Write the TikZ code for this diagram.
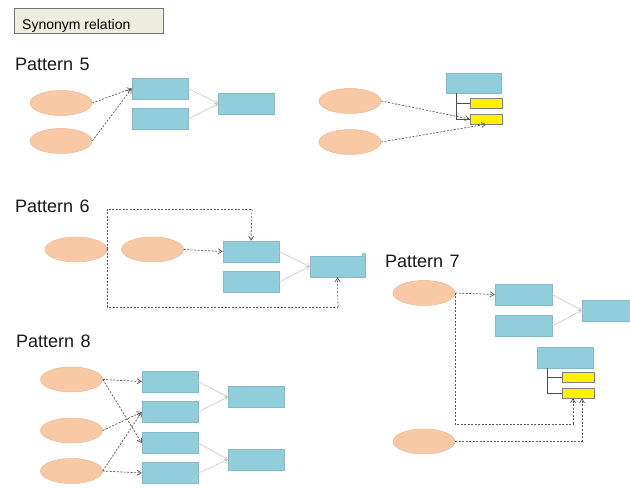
\documentclass[tikz,border=0pt]{standalone}
\usepackage{fontspec}
\setmainfont{Liberation Sans}
\usetikzlibrary{shapes.geometric,arrows.meta}
\definecolor{peach}{HTML}{F9C9A6}
\definecolor{peachline}{HTML}{E4B896}
\definecolor{boxblue}{HTML}{92CDDC}
\definecolor{boxline}{HTML}{86B8CC}
\definecolor{titlefill}{HTML}{EDEDE0}
\tikzset{
  oval/.style={ellipse, fill=peach, draw=peachline, line width=0.5pt, minimum width=62, minimum height=25, inner sep=0pt},
  bluebox/.style={rectangle, fill=boxblue, draw=boxline, line width=0.5pt, minimum width=56, minimum height=21, inner sep=0pt},
  yellowbox/.style={rectangle, fill=yellow, draw=gray, line width=0.5pt, minimum width=32, minimum height=10, inner sep=0pt},
  dashlink/.style={draw=black!65, line width=0.7pt, dash pattern=on 2pt off 1.5pt, -{Straight Barb[length=4pt,width=5pt]}},
  dashplain/.style={draw=black!65, line width=0.7pt, dash pattern=on 2pt off 1.5pt},
  greylink/.style={draw=black!22, line width=0.6pt, -{Straight Barb[length=3pt,width=4pt]}},
  treeline/.style={draw=black!70, line width=0.6pt},
  heading/.style={anchor=base west, font=\fontsize{18}{20}\selectfont, inner sep=0pt, text=black!90},
}
\begin{document}
\begin{tikzpicture}[x=1pt,y=-1pt]
\clip (0,0) rectangle (630,489);
\fill[white] (0,0) rectangle (630,489);

% title
\node[rectangle, fill=titlefill, draw=black!55, line width=0.6pt, minimum width=149, minimum height=25, inner sep=0pt] (title) at (88.5,20.5) {};
\node[anchor=base west, font=\fontsize{14}{16}\selectfont, inner sep=0pt] (titletext) at (22,30) {Synonym relation};

% ---------------- Pattern 5 ----------------
\node[heading] (h5) at (15,71) {Pattern\hspace{1.5pt} 5};
\node[oval] (p5e1) at (61,103) {};
\node[oval] (p5e2) at (61,141) {};
\node[bluebox] (p5a) at (160,88.5) {};
\node[bluebox] (p5b) at (160,119) {};
\node[bluebox] (p5c) at (246.5,103.5) {};
\draw[dashlink] (p5e1.east) -- (p5a.west);
\draw[dashlink] (p5e2.east) -- (p5a.west);
\draw[greylink] (p5a.east) -- (p5c.west);
\draw[greylink] (p5b.east) -- (p5c.west);

\node[oval] (p5e3) at (350,101) {};
\node[oval] (p5e4) at (350,142) {};
\node[bluebox, minimum width=55, minimum height=20] (p5d) at (473.5,83) {};
\node[yellowbox] (p5y1) at (486,103.5) {};
\node[yellowbox] (p5y2) at (486,119) {};
\coordinate (p5t) at (456,93);
\draw[treeline] (p5t) |- (p5y2.west);
\draw[treeline] (p5t |- p5y1.west) -- (p5y1.west);
\draw[dashlink] (p5e3.east) -- (p5y2.west);
\draw[dashlink] (p5e4.east) -- (p5y2.south);

% ---------------- Pattern 6 ----------------
\node[heading] (h6) at (15,213) {Pattern\hspace{1.5pt} 6};
\node[oval] (p6e1) at (76,249.5) {};
\node[oval] (p6e2) at (152.5,249.5) {};
\node[bluebox] (p6e) at (251,251.5) {};
\node[bluebox] (p6f) at (251,282) {};
\node[bluebox, minimum width=55] (p6g) at (337.5,266.5) {};
\fill[boxblue] (362,253) rectangle (365,257);
\draw[boxline, line width=0.5pt] (365,253) -- (365,257);
\coordinate (p6top) at (252,209);
\coordinate (p6bot) at (338,307);
\draw[dashlink] (p6e2.east) -- (p6e.west);
\draw[dashplain] (p6e1.east) |- (p6top);
\draw[dashlink] (p6top) -- (p6e.north);
\draw[dashplain] (p6e1.east) |- (p6bot);
\draw[dashlink] (p6bot) -- (p6g.south);
\draw[greylink] (p6e.east) -- (p6g.west);
\draw[greylink] (p6f.east) -- (p6g.west);

% ---------------- Pattern 7 ----------------
\node[heading] (h7) at (385,268) {Pattern\hspace{1.5pt} 7};
\node[oval] (p7e1) at (424,293) {};
\node[oval] (p7e2) at (424,441.5) {};
\node[bluebox, minimum width=57] (p7h) at (523.5,294.5) {};
\node[bluebox, minimum width=57] (p7i) at (523.5,326) {};
\node[bluebox, minimum width=57] (p7j) at (610.5,310.5) {};
\node[bluebox] (p7k) at (565,357.5) {};
\node[yellowbox] (p7y1) at (578,377) {};
\node[yellowbox] (p7y2) at (578,393) {};
\coordinate (p7t) at (547,368);
\draw[treeline] (p7t) |- (p7y2.west);
\draw[treeline] (p7t |- p7y1.west) -- (p7y1.west);
\coordinate (p7c1) at (573,424);
\coordinate (p7c2) at (582,441.5);
\draw[dashlink] (p7e1.east) -- (p7h.west);
\draw[dashplain] (p7e1.east) |- (p7c1);
\draw[dashlink] (p7c1) -- (p7c1 |- p7y2.south);
\draw[dashplain] (p7e2.east) -- (p7c2);
\draw[dashlink] (p7c2) -- (p7c2 |- p7y2.south);
\draw[greylink] (p7h.east) -- (p7j.west);
\draw[greylink] (p7i.east) -- (p7j.west);

% ---------------- Pattern 8 ----------------
\node[heading] (h8) at (16,348) {Pattern\hspace{1.5pt} 8};
\node[oval] (p8e1) at (71.5,379.5) {};
\node[oval] (p8e2) at (71.5,430.5) {};
\node[oval] (p8e3) at (71.5,471) {};
\node[bluebox] (p8r1) at (170,381.5) {};
\node[bluebox] (p8r2) at (170,412) {};
\node[bluebox] (p8r3) at (170,443) {};
\node[bluebox] (p8r4) at (170,473) {};
\node[bluebox] (p8ra) at (256,397) {};
\node[bluebox] (p8rb) at (256,459.5) {};
\draw[dashlink] (p8e1.east) -- (p8r1.west);
\draw[dashlink] (p8e1.east) -- (p8r3.west);
\draw[dashlink] (p8e2.east) -- (p8r2.west);
\draw[dashlink] (p8e3.east) -- (p8r2.west);
\draw[dashlink] (p8e3.east) -- (p8r4.west);
\draw[greylink] (p8r1.east) -- (p8ra.west);
\draw[greylink] (p8r2.east) -- (p8ra.west);
\draw[greylink] (p8r3.east) -- (p8rb.west);
\draw[greylink] (p8r4.east) -- (p8rb.west);
\end{tikzpicture}
\end{document}
